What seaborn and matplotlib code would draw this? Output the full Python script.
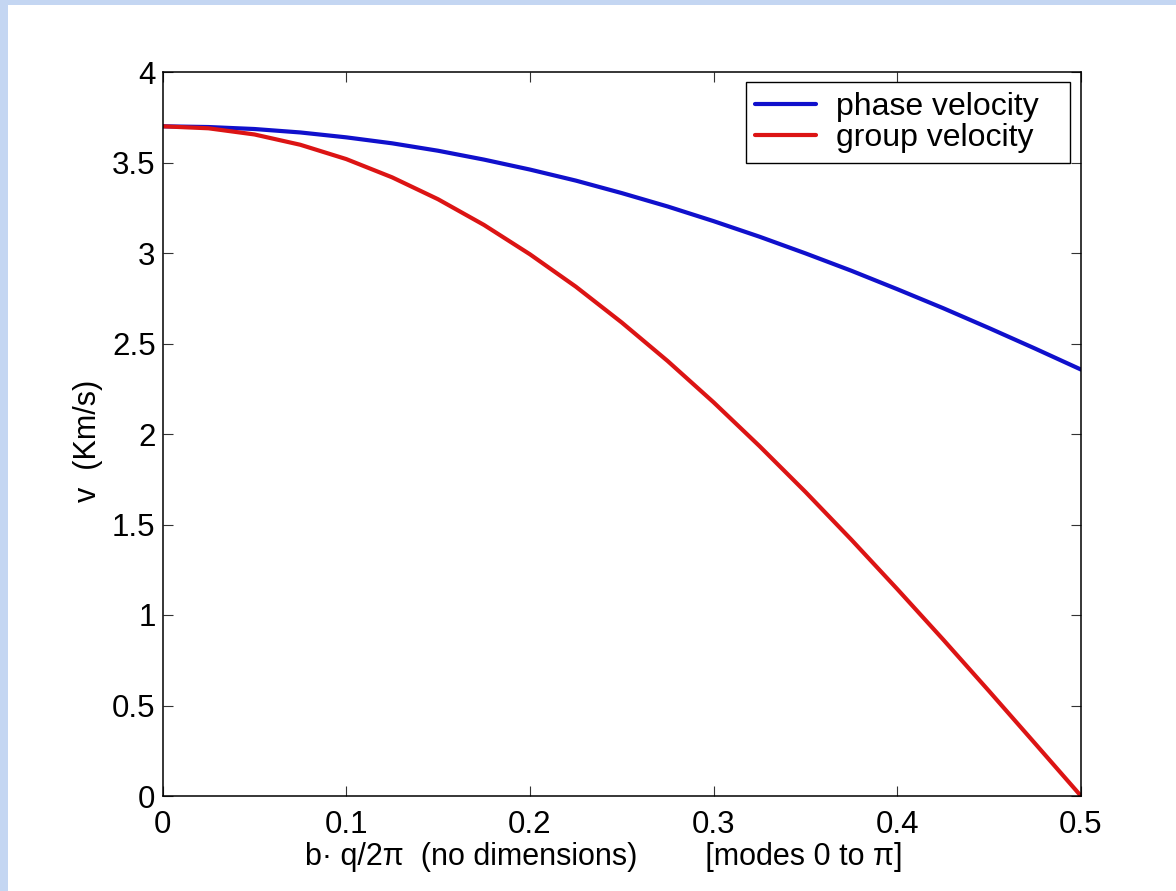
import numpy as np
import pandas as pd
import matplotlib
matplotlib.use("Agg")
import matplotlib.pyplot as plt
import seaborn as sns
from matplotlib.patches import Rectangle

# ---- data ----
x_vals = [0.0, 0.025, 0.05, 0.075, 0.1, 0.125, 0.15, 0.175, 0.2, 0.225, 0.25,
          0.275, 0.3, 0.325, 0.35, 0.375, 0.4, 0.425, 0.45, 0.475, 0.5]
phase_velocity = [3.700, 3.696, 3.685, 3.666, 3.639, 3.606, 3.565, 3.516, 3.461,
                  3.400, 3.331, 3.257, 3.176, 3.090, 2.998, 2.902, 2.800, 2.695,
                  2.585, 2.472, 2.356]
group_velocity = [3.700, 3.689, 3.655, 3.598, 3.519, 3.418, 3.297, 3.155, 2.993,
                  2.814, 2.616, 2.403, 2.175, 1.933, 1.680, 1.416, 1.143, 0.864,
                  0.579, 0.290, 0.000]
series_names = ["phase velocity", "group velocity"]
series_colors = ["#1010cc", "#dc1414"]
x_ticks = [0, 0.1, 0.2, 0.3, 0.4, 0.5]
x_tick_labels = ["0", "0.1", "0.2", "0.3", "0.4", "0.5"]
y_ticks = [0, 0.5, 1, 1.5, 2, 2.5, 3, 3.5, 4]
y_tick_labels = ["0", "0.5", "1", "1.5", "2", "2.5", "3", "3.5", "4"]
x_label = "b\u00b7 q/2\u03c0  (no dimensions)        [modes 0 to \u03c0]"
y_label = "v  (Km/s)"

df = pd.DataFrame({
    "x": x_vals * 2,
    "v": phase_velocity + group_velocity,
    "series": [series_names[0]] * len(x_vals) + [series_names[1]] * len(x_vals),
})

sns.set_theme(style="white")
plt.rcParams["font.family"] = ["Liberation Sans", "DejaVu Sans"]
plt.rcParams["text.color"] = "black"

fig = plt.figure(figsize=(11.76, 8.91), dpi=100, facecolor="#c4d6f2")
# white slide panel (behind everything)
panel = Rectangle((8 / 1176, 0), 1.0, 1 - 5 / 891, transform=fig.transFigure,
                  facecolor="white", edgecolor="none", zorder=-10)
fig.add_artist(panel)

ax = fig.add_axes([162.5 / 1176, 1 - 796 / 891, (1081 - 162.5) / 1176, (796 - 72) / 891])
ax.set_zorder(1)
ax.set_facecolor("white")

sns.lineplot(data=df, x="x", y="v", hue="series", palette=series_colors,
             linewidth=3.0, ax=ax, sort=False)

ax.set_xlim(0, 0.5)
ax.set_ylim(0, 4)
ax.set_xticks(x_ticks)
ax.set_xticklabels(x_tick_labels)
ax.set_yticks(y_ticks)
ax.set_yticklabels(y_tick_labels)
ax.tick_params(direction="in", length=7, width=0.8, color="#333333",
               labelsize=22.5, labelcolor="black", top=True, right=True,
               bottom=True, left=True)
ax.tick_params(axis="x", pad=10)
ax.tick_params(axis="y", pad=5)
for s in ax.spines.values():
    s.set_color("black")
    s.set_linewidth(1.1)

ax.set_xlabel(x_label, fontsize=22, color="black")
ax.xaxis.set_label_coords(0.48, -0.064, transform=ax.transAxes)
ax.xaxis.label.set_va("top")
ax.set_ylabel(y_label, fontsize=22, color="black")
ax.yaxis.set_label_coords(-0.081, 0.49, transform=ax.transAxes)
ax.yaxis.label.set_va("center")

leg = ax.legend(loc="upper right", fontsize=23, frameon=True, fancybox=False,
                framealpha=1, edgecolor="black", labelcolor="black",
                bbox_to_anchor=(0.635, 0.0, 0.353, 0.986), mode="expand",
                borderaxespad=0.0, handlelength=1.9, handletextpad=0.62,
                borderpad=0.3, labelspacing=0.05)
leg.get_frame().set_linewidth(1.0)
for line in leg.get_lines():
    line.set_linewidth(3.0)

fig.savefig("out.png", dpi=100, facecolor=fig.get_facecolor())
